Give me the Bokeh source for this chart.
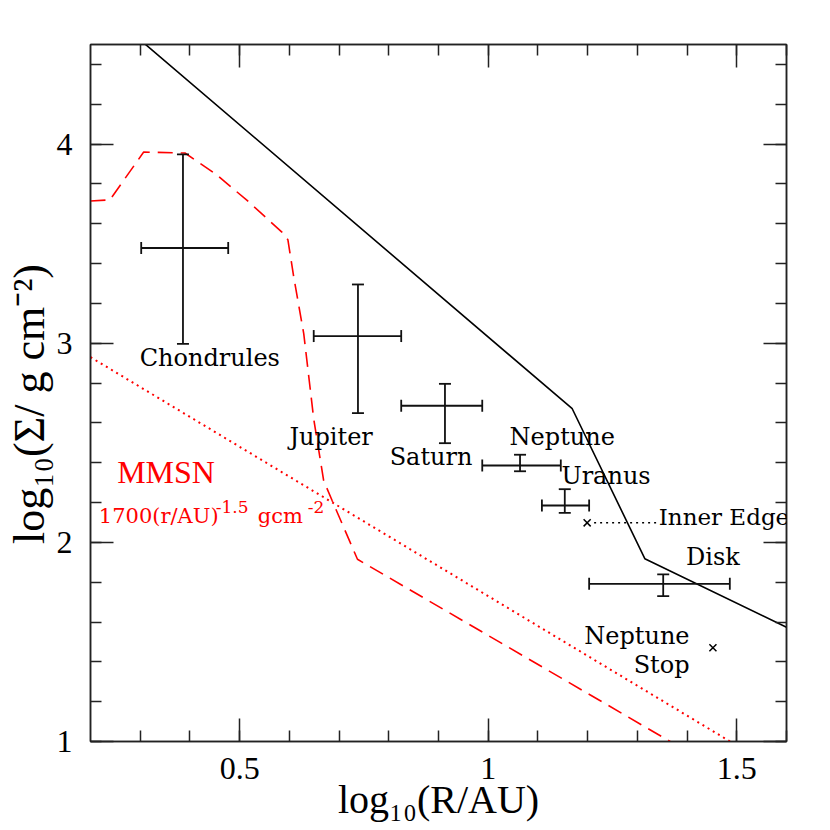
import numpy as np
from bokeh.plotting import figure
from bokeh.models import (Range1d, LinearAxis, SingleIntervalTicker,
                          CustomJSTickFormatter, ColumnDataSource, Label)
from bokeh.embed import file_html
from bokeh.resources import INLINE

# ---------------- data (log10 R/AU, log10 Sigma) ----------------
solid_x = [0.300, 1.169, 1.315, 1.600]
solid_y = [4.523, 2.671, 1.918, 1.574]

dash_x = [0.200, 0.239, 0.307, 0.390, 0.451, 0.515, 0.585, 0.597, 0.609,
          0.629, 0.649, 0.669, 0.686, 0.737, 1.366]
dash_y = [3.714, 3.720, 3.960, 3.955, 3.851, 3.717, 3.558, 3.520, 3.330,
          3.047, 2.620, 2.310, 2.210, 1.915, 1.000]

mmsn_x = [0.200, 1.500]
mmsn_y = [2.930, 0.980]

obj_names = ["Chondrules", "Jupiter", "Saturn", "Neptune", "Uranus", "Disk"]
obj_x   = [0.386, 0.738, 0.913, 1.064, 1.154, 1.352]
obj_y   = [3.478, 3.036, 2.686, 2.386, 2.185, 1.792]
obj_xlo = [0.302, 0.649, 0.825, 0.988, 1.108, 1.203]
obj_xhi = [0.477, 0.825, 0.988, 1.146, 1.203, 1.486]
obj_ylo = [2.997, 2.649, 2.498, 2.357, 2.148, 1.730]
obj_yhi = [3.948, 3.295, 2.796, 2.440, 2.267, 1.839]

cross_x = [1.199, 1.452]
cross_y = [2.098, 1.471]
edge_x = [1.213, 1.340]
edge_y = [2.098, 2.098]

label_text = ["Chondrules", "Jupiter", "Saturn", "Neptune", "Uranus",
              "Inner Edge", "Disk", "Neptune", "Stop"]
label_x = [0.440, 0.684, 0.885, 1.149, 1.237, 1.343, 1.452, 1.405, 1.405]
label_y = [2.924, 2.530, 2.429, 2.530, 2.332, 2.128, 1.926, 1.529, 1.383]
label_align = ["center", "center", "center", "center", "center",
               "left", "center", "right", "right"]
label_size = ["24px", "24px", "24px", "24px", "24px",
              "23px", "24px", "24px", "24px"]

mmsn_label = "MMSN"
mmsn_label_pos = (0.352, 2.352)
formula_parts = ["1700(r/AU)", "-1.5", "gcm", "-2"]
formula_pos = (0.2167, 2.131)

x_ticks_interval = 0.5
y_ticks_interval = 1.0

# ---------------- figure ----------------
p = figure(frame_width=696, frame_height=697,
           x_range=Range1d(0.2, 1.6), y_range=Range1d(1.0, 4.5),
           x_axis_type=None, y_axis_type=None,
           output_backend="svg", toolbar_location=None,
           min_border_left=90, min_border_top=44,
           min_border_right=20, min_border_bottom=80)
p.outline_line_color = "#222222"
p.outline_line_width = 1.5
p.background_fill_color = "white"
p.border_fill_color = "white"

fmt = CustomJSTickFormatter(code="return String(Math.round(tick*10)/10);")
blank = CustomJSTickFormatter(code="return '';")

def style_axis(ax):
    ax.major_tick_in = 23
    ax.major_tick_out = 0
    ax.minor_tick_in = 11
    ax.minor_tick_out = 0
    for attr in ("axis_line", "major_tick_line", "minor_tick_line"):
        setattr(ax, attr + "_color", "#222222")
        setattr(ax, attr + "_width", 1.5)
    ax.major_label_text_font = "Liberation Serif"
    ax.major_label_text_font_size = "32px"
    ax.major_label_text_color = "black"
    ax.axis_label_text_font = "Liberation Serif"
    ax.axis_label_text_font_style = "normal"
    ax.axis_label_text_color = "black"

xb = LinearAxis(ticker=SingleIntervalTicker(interval=x_ticks_interval, num_minor_ticks=5),
                formatter=fmt, axis_label="log\u2081\u2080(R/AU)")
xt = LinearAxis(ticker=SingleIntervalTicker(interval=x_ticks_interval, num_minor_ticks=5),
                formatter=blank)
yl = LinearAxis(ticker=SingleIntervalTicker(interval=y_ticks_interval, num_minor_ticks=5),
                formatter=fmt, axis_label="log\u2081\u2080(\u03a3/  g  cm\u207b\u00b2)")
yr = LinearAxis(ticker=SingleIntervalTicker(interval=y_ticks_interval, num_minor_ticks=5),
                formatter=blank)
for ax in (xb, xt, yl, yr):
    style_axis(ax)
xb.axis_label_text_font_size = "40px"
yl.axis_label_text_font_size = "44px"
xb.major_label_standoff = 16
xb.axis_label_standoff = -5
yl.major_label_standoff = 18
yl.axis_label_standoff = 0
xt.major_label_standoff = 0
yr.major_label_standoff = 0

p.add_layout(xb, "below")
p.add_layout(xt, "above")
p.add_layout(yl, "left")
p.add_layout(yr, "right")

# ---------------- curves ----------------
p.line(solid_x, solid_y, line_color="black", line_width=1.6)
p.line(dash_x, dash_y, line_color="#ff0000", line_width=1.6, line_dash="15 8")
p.line(mmsn_x, mmsn_y, line_color="#ff0000", line_width=2, line_dash="2 4")

# ---------------- error bars ----------------
src = ColumnDataSource(dict(x=obj_x, y=obj_y, xlo=obj_xlo, xhi=obj_xhi,
                            ylo=obj_ylo, yhi=obj_yhi, name=obj_names))
ebar = dict(line_color="#111111", line_width=1.8)
p.segment(x0="xlo", y0="y", x1="xhi", y1="y", source=src, **ebar)
p.segment(x0="x", y0="ylo", x1="x", y1="yhi", source=src, **ebar)
p.scatter(x="xlo", y="y", source=src, marker="dash", angle=np.pi / 2, size=12, **ebar)
p.scatter(x="xhi", y="y", source=src, marker="dash", angle=np.pi / 2, size=12, **ebar)
p.scatter(x="x", y="ylo", source=src, marker="dash", size=12, **ebar)
p.scatter(x="x", y="yhi", source=src, marker="dash", size=12, **ebar)

# crosses and dotted connector
p.scatter(cross_x, cross_y, marker="x", size=10, line_color="black", line_width=1.5)
p.line(edge_x, edge_y, line_color="black", line_width=1.5, line_dash="2 4")

# ---------------- labels ----------------
for t, lx, ly, al, fs in zip(label_text, label_x, label_y, label_align, label_size):
    p.add_layout(Label(x=lx, y=ly, text=t, text_align=al,
                       text_baseline="alphabetic", text_font="DejaVu Serif",
                       text_font_size=fs, text_color="black"))

red = "#ff0000"
p.add_layout(Label(x=mmsn_label_pos[0], y=mmsn_label_pos[1], text=mmsn_label,
                   text_align="center", text_baseline="alphabetic",
                   text_font="Liberation Serif", text_font_size="32px",
                   text_color=red))
part_style = [(0, 0, "21px"), (117, 9, "17px"), (159, 0, "21px"), (209, 9, "17px")]
for txt, (dx, dy, fs) in zip(formula_parts, part_style):
    p.add_layout(Label(x=formula_pos[0], y=formula_pos[1], text=txt,
                       x_offset=dx, y_offset=dy,
                       text_align="left", text_baseline="alphabetic",
                       text_font="DejaVu Serif", text_font_size=fs,
                       text_color=red))

open("out.html", "w").write(file_html(p, INLINE))
